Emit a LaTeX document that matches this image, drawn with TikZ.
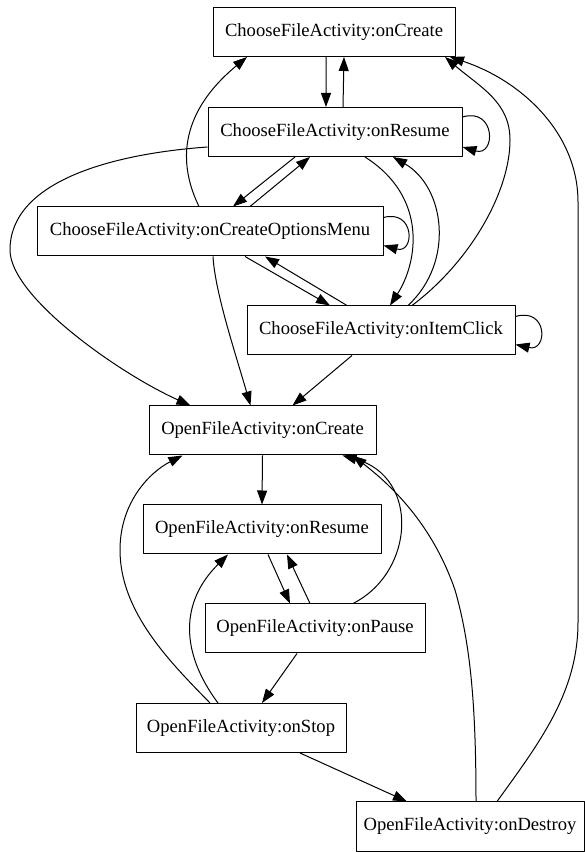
\documentclass[tikz,border=0pt]{standalone}
\usepackage{fontspec}
\setmainfont{Liberation Serif}
\usetikzlibrary{arrows.meta}

\begin{document}
\begin{tikzpicture}[>={Triangle[length=14bp,width=10bp]},line join=bevel,line width=1bp,
    act/.style={draw,rectangle,minimum height=49bp,inner sep=0pt,font=\fontsize{18.6bp}{22bp}\selectfont}]
        \useasboundingbox (0bp,0bp) rectangle (585bp,852bp);
        \clip (0bp,0bp) rectangle (585bp,852bp);
        %%
        \node (cfaCreate) at (334bp,820bp) [act,minimum width=242bp] {ChooseFileActivity:onCreate};
        \node (cfaResume) at (335bp,720bp) [act,minimum width=254bp] {ChooseFileActivity:onResume};
        \node (cfaMenu) at (210bp,620.5bp) [act,minimum width=346bp] {ChooseFileActivity:onCreateOptionsMenu};
        \node (cfaClick) at (381bp,521.5bp) [act,minimum width=268bp] {ChooseFileActivity:onItemClick};
        \node (ofaCreate) at (262.5bp,421.5bp) [act,minimum width=227bp] {OpenFileActivity:onCreate};
        \node (ofaResume) at (262bp,322.5bp) [act,minimum width=238bp] {OpenFileActivity:onResume};
        \node (ofaPause) at (315bp,223.5bp) [act,minimum width=220bp] {OpenFileActivity:onPause};
        \node (ofaStop) at (241bp,124bp) [act,minimum width=210bp] {OpenFileActivity:onStop};
        \node (ofaDestroy) at (470bp,25.5bp) [act,minimum width=228bp] {OpenFileActivity:onDestroy};
        \draw [->] ([xshift=-8bp]cfaCreate.south) -- ([xshift=-9bp]cfaResume.north);
        \draw [->] ([xshift=8bp]cfaResume.north) -- ([xshift=10bp]cfaCreate.south);
        \draw [->] ([yshift=15bp]cfaResume.east) ..controls (496bp,745bp) and (496bp,695bp)  .. ([yshift=-15bp]cfaResume.east);
        \draw [->] ([xshift=-40bp]cfaResume.south) -- ([xshift=23bp]cfaMenu.north);
        \draw [->] ([xshift=40bp]cfaMenu.north) -- ([xshift=-25bp]cfaResume.south);
        \draw [->] ([xshift=30bp]cfaResume.south) ..controls (428bp,655bp) and (418bp,590bp)  .. ([xshift=9bp]cfaClick.north);
        \draw [->] ([xshift=27bp]cfaClick.north) ..controls (455bp,590bp) and (445bp,665bp)  .. ([xshift=58bp]cfaResume.south);
        \draw [->] ([xshift=31bp]cfaClick.north) ..controls (470bp,590bp) and (510bp,660bp)  .. (510bp,712bp)
            ..controls (510bp,750bp) and (480bp,765bp)  .. ([xshift=111bp]cfaCreate.south);
        \draw [->] ([yshift=14bp]cfaMenu.east) ..controls (415bp,643bp) and (415bp,598bp)  .. ([yshift=-14bp]cfaMenu.east);
        \draw [->] ([xshift=35bp]cfaMenu.south) -- ([xshift=-51bp]cfaClick.north);
        \draw [->] ([xshift=-34bp]cfaClick.north) -- ([xshift=55bp]cfaMenu.south);
        \draw [->] ([yshift=14bp]cfaClick.east) ..controls (548bp,545bp) and (548bp,500bp)  .. ([yshift=-14bp]cfaClick.east);
        \draw [->] ([xshift=-29bp]cfaClick.south) -- ([xshift=30bp]ofaCreate.north);
        \draw [->] ([xshift=3bp]cfaMenu.south) ..controls (215bp,560bp) and (235bp,500bp)  .. ([xshift=-12bp]ofaCreate.north);
        \draw [->] ([yshift=-15bp]cfaResume.west) ..controls (110bp,698bp) and (10bp,670bp)  .. (10bp,602bp)
            ..controls (10bp,555bp) and (120bp,478bp)  .. ([xshift=-72bp]ofaCreate.north);
        \draw [->] ([xshift=-11bp]cfaMenu.north) ..controls (170bp,705bp) and (195bp,752bp)  .. ([xshift=-87bp]cfaCreate.south);
        %
        \draw [->] (ofaCreate.south) -- (ofaResume.north);
        \draw [->] ([xshift=6bp]ofaResume.south) -- ([xshift=-25bp]ofaPause.north);
        \draw [->] ([xshift=-5bp]ofaPause.north) -- ([xshift=25bp]ofaResume.south);
        \draw [->] ([xshift=38bp]ofaPause.north) ..controls (415bp,280bp) and (420bp,375bp)  .. ([xshift=80bp]ofaCreate.south);
        \draw [->] ([xshift=6bp]ofaDestroy.north) ..controls (476bp,150bp) and (470bp,210bp)  .. (455bp,262bp)
            ..controls (435bp,320bp) and (400bp,360bp)  .. ([xshift=90bp]ofaCreate.south);
        \draw [->] ([xshift=27bp]ofaDestroy.north) ..controls (540bp,110bp) and (578bp,160bp)  .. (578bp,230bp)
            -- (578bp,650bp) ..controls (578bp,720bp) and (520bp,772bp)  .. ([xshift=116bp]cfaCreate.south);
        \draw [->] ([xshift=-31bp]ofaStop.north) ..controls (170bp,190bp) and (120bp,240bp)  .. (120bp,302bp)
            ..controls (120bp,350bp) and (150bp,380bp)  .. ([xshift=-80bp]ofaCreate.south);
        \draw [->] ([xshift=-23bp]ofaStop.north) ..controls (180bp,200bp) and (180bp,250bp)  .. ([xshift=-34bp]ofaResume.south);
        \draw [->] ([xshift=-18bp]ofaPause.south) -- ([xshift=21bp]ofaStop.north);
        \draw [->] ([xshift=59bp]ofaStop.south) -- ([xshift=-63bp]ofaDestroy.north);
        %
    \end{tikzpicture}
\end{document}
